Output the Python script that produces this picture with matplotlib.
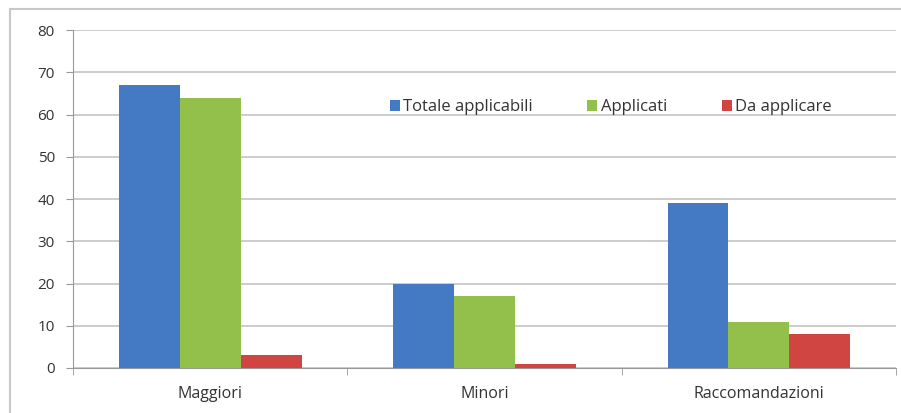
import matplotlib
matplotlib.use("Agg")
import matplotlib.pyplot as plt
import matplotlib.patches as mpatches
import numpy as np

categories = ["Maggiori", "Minori", "Raccomandazioni"]
series_names = ["Totale applicabili", "Applicati", "Da applicare"]
totale = [67, 20, 39]
applicati = [64, 17, 11]
da_applicare = [3, 1, 8]
colors = ["#4479C3", "#92C04B", "#D04442"]

plt.rcParams["font.family"] = ["Open Sans", "DejaVu Sans"]

fig = plt.figure(figsize=(9.01, 4.13), dpi=100)
ax = fig.add_axes([0.081, 0.109, 0.9135, 0.818])

# outer chart frame
fig.patches.append(mpatches.Rectangle((10 / 901, -0.05), 1.1, 1 - 9 / 413 + 0.05,
                                      transform=fig.transFigure, fill=False,
                                      edgecolor="#c8c8c8", linewidth=1.5))

x = np.arange(len(categories))
w = 0.222
for i, (vals, name) in enumerate(zip([totale, applicati, da_applicare], series_names)):
    ax.bar(x + (i - 1) * w, vals, w, color=colors[i], label=name, zorder=3)

ax.set_xlim(-0.5, 2.5)
ax.set_ylim(0, 80)
ax.set_yticks(range(0, 81, 10))
ax.set_xticks(x)
ax.set_xticklabels(categories)
ax.set_xticks([-0.5, 0.5, 1.5, 2.5], minor=True)
ax.tick_params(axis="x", which="major", length=0, pad=13, labelsize=11.5, colors="#333333")
ax.tick_params(axis="x", which="minor", length=5, color="#999999")
ax.tick_params(axis="y", length=5, color="#999999", labelsize=11, pad=8)
for lab in ax.get_yticklabels():
    lab.set_color("#333333")

ax.grid(axis="y", color="#c4c4c4", linewidth=1.2, zorder=0)
for s in ["top", "right"]:
    ax.spines[s].set_visible(False)
ax.spines["left"].set_color("#999999")
ax.spines["bottom"].set_color("#999999")

leg = ax.legend(loc="upper left", bbox_to_anchor=(0.3765, 0.815), ncol=3, frameon=False,
                fontsize=12, handlelength=0.6, handleheight=0.6, handletextpad=0.2,
                columnspacing=3.3, borderaxespad=0)
for t in leg.get_texts():
    t.set_color("#333333")

fig.savefig("out.png", dpi=100)
